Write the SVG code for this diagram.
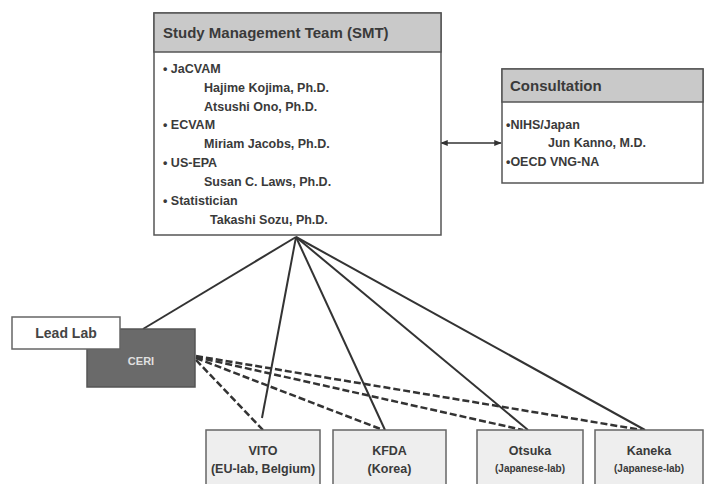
<svg xmlns="http://www.w3.org/2000/svg" width="705" height="484" viewBox="0 0 705 484">
<style>
text{font-family:"Liberation Sans",Arial,sans-serif;font-weight:bold;fill:#3a3a3a}
.box{stroke:#555;stroke-width:1.5}
.hdr{fill:#c9c9c9;stroke:#555;stroke-width:1.5}
.t12{font-size:12.5px}
.t14{font-size:15px}
.lab{fill:#eeeeee;stroke:#666;stroke-width:1.5}
.solid{stroke:#333;stroke-width:2;fill:none}
.dash{stroke:#333;stroke-width:2.5;fill:none;stroke-dasharray:7 3}
</style>
<defs>
<marker id="ah" viewBox="0 0 10 10" refX="9" refY="5" markerWidth="5" markerHeight="5" orient="auto-start-reverse">
<path d="M0,1 L10,5 L0,9 z" fill="#333"/>
</marker>
</defs>
<rect width="705" height="484" fill="#ffffff"/>

<g id="connectors">
<line x1="441" y1="143" x2="501" y2="143" stroke="#333" stroke-width="1.5" marker-start="url(#ah)" marker-end="url(#ah)"/>
<line class="solid" x1="296" y1="237" x2="143" y2="329"/>
<line class="solid" x1="296" y1="237" x2="262" y2="418"/>
<line class="solid" x1="296" y1="237" x2="385" y2="430"/>
<line class="solid" x1="296" y1="237" x2="528" y2="430"/>
<line class="solid" x1="296" y1="237" x2="645" y2="430"/>
<line class="dash" x1="196" y1="360" x2="263" y2="430"/>
<line class="dash" x1="196" y1="358" x2="383" y2="430"/>
<line class="dash" x1="196" y1="357" x2="523" y2="430"/>
<line class="dash" x1="196" y1="356" x2="642" y2="430"/>
</g>

<g id="smt">
<rect class="box" x="154" y="13" width="287" height="222" fill="#ffffff"/>
<rect class="hdr" x="154" y="13" width="287" height="39"/>
<text class="t14" x="163" y="38">Study Management Team (SMT)</text>
<text class="t12" x="163" y="73">• JaCVAM</text>
<text class="t12" x="204" y="92">Hajime Kojima, Ph.D.</text>
<text class="t12" x="204" y="111">Atsushi Ono, Ph.D.</text>
<text class="t12" x="163" y="129">• ECVAM</text>
<text class="t12" x="204" y="148">Miriam Jacobs, Ph.D.</text>
<text class="t12" x="163" y="167">• US-EPA</text>
<text class="t12" x="204" y="186">Susan C. Laws, Ph.D.</text>
<text class="t12" x="163" y="205">• Statistician</text>
<text class="t12" x="210" y="224">Takashi Sozu, Ph.D.</text>
</g>

<g id="consultation">
<rect class="box" x="502" y="69" width="201" height="114" fill="#ffffff"/>
<rect class="hdr" x="502" y="69" width="201" height="33"/>
<text class="t14" x="510" y="91">Consultation</text>
<text class="t12" x="506" y="129">•NIHS/Japan</text>
<text class="t12" x="548" y="147">Jun Kanno, M.D.</text>
<text class="t12" x="506" y="166">•OECD VNG-NA</text>
</g>

<g id="ceri">
<rect x="87" y="329" width="108" height="58" fill="#6a6a6a" stroke="#555" stroke-width="1.5"/>
<text x="141" y="365" font-size="11" text-anchor="middle" style="fill:#e0e0e0">CERI</text>
</g>

<g id="leadlab">
<rect x="12" y="317" width="108" height="32" fill="#ffffff" stroke="#666" stroke-width="1.5"/>
<text x="66" y="338" font-size="14" text-anchor="middle" style="fill:#444">Lead Lab</text>
</g>

<g id="vito">
<rect class="lab" x="206" y="430" width="114" height="60"/>
<text class="t12" x="263" y="455" text-anchor="middle">VITO</text>
<text class="t12" x="263" y="473" text-anchor="middle">(EU-lab, Belgium)</text>
</g>

<g id="kfda">
<rect class="lab" x="333" y="430" width="113" height="60"/>
<text class="t12" x="389.5" y="455" text-anchor="middle">KFDA</text>
<text class="t12" x="389.5" y="473" text-anchor="middle">(Korea)</text>
</g>

<g id="otsuka">
<rect class="lab" x="477" y="430" width="106" height="60"/>
<text class="t12" x="530" y="455" text-anchor="middle">Otsuka</text>
<text x="530" y="472" font-size="10" text-anchor="middle">(Japanese-lab)</text>
</g>

<g id="kaneka">
<rect class="lab" x="595" y="430" width="108" height="60"/>
<text class="t12" x="649" y="455" text-anchor="middle">Kaneka</text>
<text x="649" y="472" font-size="10" text-anchor="middle">(Japanese-lab)</text>
</g>
</svg>
